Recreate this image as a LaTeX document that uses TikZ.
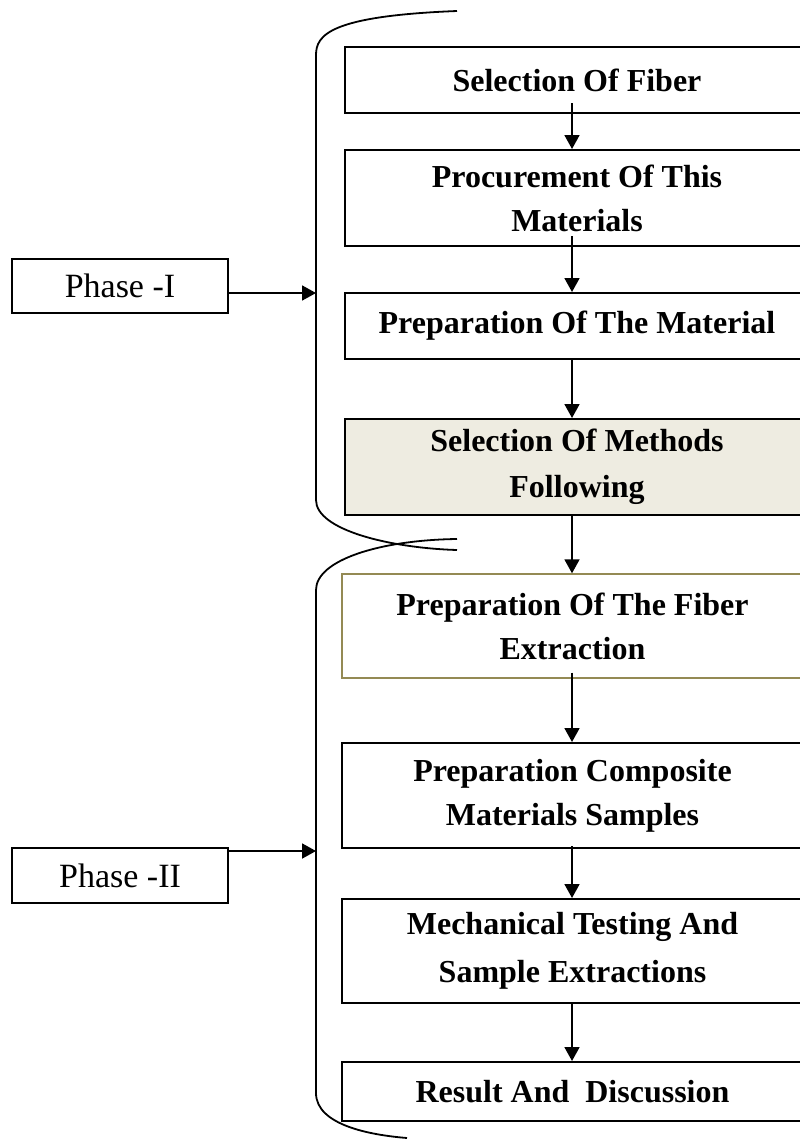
\documentclass[tikz,border=0pt]{standalone}
\usepackage{fontspec}
\setmainfont{Liberation Serif}
\usetikzlibrary{arrows.meta,calc}
\definecolor{olivebox}{RGB}{148,138,84}
\definecolor{tanfill}{RGB}{238,236,225}
\tikzset{
  stage/.style={draw, line width=1pt, minimum width=232pt, inner sep=0pt, align=center, font=\bfseries\fontsize{16}{22}\selectfont},
  phasebox/.style={draw, line width=0.8pt, minimum width=108pt, minimum height=27pt, inner sep=0pt, font=\fontsize{17}{20}\selectfont},
  flow/.style={-{Triangle[length=7pt,width=7.5pt]}, line width=0.9pt},
  brace/.style={line width=0.9pt},
}

\begin{document}
\begin{tikzpicture}[x=0.5pt,y=0.5pt,yscale=-1]
\useasboundingbox (0,0) rectangle (799,1140);
\node (s1) at (577,80) [stage, minimum height=33pt] {Selection Of Fiber};
\node (s2) at (577,198) [stage, minimum height=48pt] {Procurement Of This\\Materials};
\node (s3) at (577,326) [stage, minimum height=33pt] {Preparation Of The Material};
\node (s4) at (577,467) [stage, minimum height=48pt, fill=tanfill] {Selection Of Methods\\[1pt]Following};
\node (s5) at (572.5,626) [stage, minimum width=230.5pt, minimum height=52pt, draw=olivebox, line width=0.7pt] {Preparation Of The Fiber\\Extraction};
\node (s6) at (572.5,795.5) [stage, minimum width=230.5pt, minimum height=52.5pt] {Preparation Composite\\Materials Samples};
\node (s7) at (572.5,951) [stage, minimum width=230.5pt, minimum height=52pt] {Mechanical Testing And\\[2pt]Sample Extractions};
\node (s8) at (572.5,1091.5) [stage, minimum width=230.5pt, minimum height=29.5pt] {Result And \ Discussion};
\node (ph1) at (120,286) [phasebox] {Phase -I};
\node (ph2) at (120,875.5) [phasebox, minimum height=27.5pt] {Phase -II};
% arrows down the column
\coordinate (axis) at (572,0);
\draw[flow] ($(s1.south -| axis)+(0,-11)$) -- (s2.north -| axis);
\draw[flow] ($(s2.south -| axis)+(0,-11)$) -- (s3.north -| axis);
\draw[flow] (s3.south -| axis) -- (s4.north -| axis);
\draw[flow] (s4.south -| axis) -- (s5.north -| axis);
\draw[flow] ($(s5.south -| axis)+(0,-6)$) -- (s6.north -| axis);
\draw[flow] ($(s6.south -| axis)+(0,-3)$) -- (s7.north -| axis);
\draw[flow] (s7.south -| axis) -- (s8.north -| axis);
% braces
\draw[brace] (457,11) .. controls (330,16) and (316,35) .. (316,55) -- (316,500) .. controls (316,530) and (390,548) .. (457,550);
\draw[brace] (457,539) .. controls (380,540) and (316,560) .. (316,590) -- (316,1093) .. controls (316,1125) and (370,1135) .. (407,1138);
\coordinate (b1) at (316,293);
\coordinate (b2) at (316,851);
\draw[flow] (ph1.east |- b1) -- (b1);
\draw[flow] (ph2.east |- b2) -- (b2);
\end{tikzpicture}
\end{document}
